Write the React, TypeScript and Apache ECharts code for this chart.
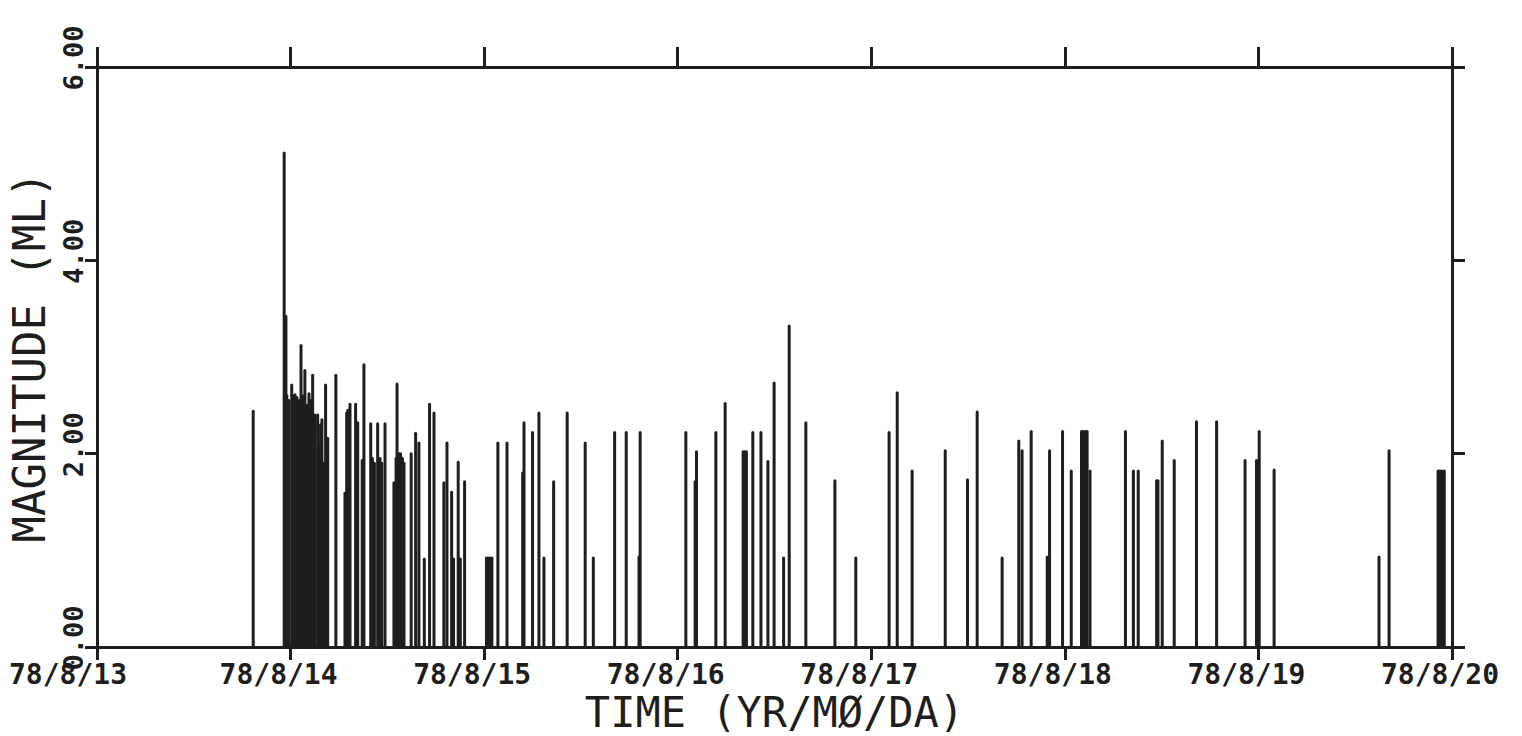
import React, { useEffect, useRef } from "react";
import * as echarts from "echarts";

// Event times as fractional day of August 1978, and local magnitudes (ML)
const eventDay: number[] = [
  13.807, 13.967, 13.976,
  13.971, 13.981, 13.992, 14.006, 14.012, 14.023, 14.033, 14.043, 14.054, 14.064,
  14.074, 14.085, 14.095, 14.105, 14.114, 14.126, 14.140, 14.147, 14.155, 14.162,
  14.172, 14.181, 14.192,
  14.234, 14.281, 14.290, 14.296, 14.307, 14.336, 14.347, 14.370, 14.379,
  14.414, 14.423, 14.433, 14.450, 14.462, 14.471, 14.488,
  14.534, 14.545, 14.550, 14.560, 14.568, 14.578, 14.586, 14.623, 14.646, 14.663,
  14.691, 14.718, 14.741, 14.792, 14.808, 14.832, 14.842, 14.866, 14.877, 14.899,
  15.012, 15.020, 15.030, 15.040, 15.071, 15.118, 15.199, 15.206, 15.250, 15.283,
  15.309, 15.359, 15.429, 15.522, 15.564, 15.674, 15.734, 15.800, 15.806,
  16.042, 16.090, 16.097, 16.197, 16.245, 16.338, 16.347, 16.355, 16.388, 16.430,
  16.466, 16.498, 16.547, 16.576, 16.662, 16.812, 16.920,
  17.092, 17.134, 17.211, 17.382, 17.497, 17.547, 17.676, 17.762, 17.779, 17.826,
  17.909, 17.921, 17.988,
  18.033, 18.086, 18.096, 18.106, 18.115, 18.130, 18.313, 18.354, 18.379, 18.474,
  18.481, 18.503, 18.565, 18.680, 18.784, 18.931, 18.990,
  19.004, 19.081, 19.623, 19.675, 19.928, 19.937, 19.947, 19.960,
];

const eventMag: number[] = [
  2.44, 5.11, 3.42,
  2.55, 2.6, 2.55, 2.71, 2.6, 2.61, 2.58, 2.55, 3.12, 2.6,
  2.86, 2.5, 2.62, 2.55, 2.81, 2.4, 2.4, 2.1, 2.3, 2.35,
  1.9, 2.71, 2.16,
  2.81, 1.59, 2.42, 2.45, 2.51, 2.51, 2.32, 1.93, 2.92,
  2.31, 1.95, 1.9, 2.31, 1.95, 1.9, 2.31,
  1.7, 1.95, 2.72, 2.0, 2.0, 1.95, 1.9, 2.0, 2.21, 2.11,
  0.91, 2.51, 2.42, 1.7, 2.11, 1.6, 0.91, 1.91, 0.91, 1.71,
  0.92, 0.92, 0.92, 0.92, 2.11, 2.11, 1.8, 2.32, 2.22, 2.42,
  0.92, 1.71, 2.42, 2.11, 0.92, 2.22, 2.22, 0.93, 2.22,
  2.22, 1.71, 2.02, 2.22, 2.52, 2.02, 2.02, 2.02, 2.22, 2.22,
  1.92, 2.73, 0.92, 3.32, 2.32, 1.72, 0.92,
  2.22, 2.63, 1.82, 2.03, 1.73, 2.43, 0.92, 2.13, 2.03, 2.23,
  0.93, 2.03, 2.23,
  1.82, 2.23, 2.23, 2.23, 2.23, 1.82, 2.23, 1.82, 1.82, 1.72,
  1.72, 2.13, 1.93, 2.33, 2.33, 1.93, 1.93,
  2.23, 1.83, 0.93, 2.03, 1.82, 1.82, 1.82, 1.82,
];

const dayMin = 13;
const dayMax = 20;
const magMin = 0;
const magMax = 6;
const magStep = 2;
const xLabelPrefix = "78/8/";
const xTitle = "TIME (YR/MØ/DA)";
const yTitle = "MAGNITUDE (ML)";

const INK = "#1e1e1e";
const FONT = "DejaVu Sans Mono";

export default function App() {
  const ref = useRef<HTMLDivElement>(null);

  useEffect(() => {
    document.body.style.margin = "0";
    document.body.style.background = "#ffffff";
    if (!ref.current) return;
    const chart = echarts.init(ref.current, undefined, { renderer: "svg" });

    const data = eventDay.map((d, i) => [d, eventMag[i]]);

    const axisLine = { show: true, onZero: false, lineStyle: { color: INK, width: 3 } };

    chart.setOption({
      animation: false,
      backgroundColor: "#ffffff",
      grid: { left: 97, right: 70, top: 67, bottom: 89, containLabel: false, outerBoundsMode: "none" },
      xAxis: [
        {
          type: "value",
          position: "bottom",
          min: dayMin,
          max: dayMax,
          interval: 1,
          axisLine,
          axisTick: { show: true, inside: false, length: 13, lineStyle: { color: INK, width: 3 } },
          splitLine: { show: false },
          axisLabel: {
            show: true,
            margin: 13,
            color: INK,
            fontFamily: FONT,
            fontWeight: "bold",
            fontSize: 28,
            formatter: (v: number) =>
              v === dayMin ? `{a|${xLabelPrefix}${v}}` : `{b|${xLabelPrefix}${v}}`,
            rich: {
              a: { fontFamily: FONT, fontWeight: "bold", fontSize: 28, color: INK, padding: [0, 58, 0, 0] },
              b: { fontFamily: FONT, fontWeight: "bold", fontSize: 28, color: INK, padding: [0, 24, 0, 0] },
            },
          },
          name: xTitle,
          nameLocation: "middle",
          nameMoveOverlap: false,
          nameGap: 44,
          nameTextStyle: { color: INK, fontFamily: FONT, fontSize: 42, fontWeight: "normal" },
        },
        {
          type: "value",
          position: "top",
          min: dayMin,
          max: dayMax,
          interval: 1,
          axisLine,
          axisTick: { show: true, inside: false, length: 20, lineStyle: { color: INK, width: 3 } },
          splitLine: { show: false },
          axisLabel: { show: false },
        },
      ],
      yAxis: [
        {
          type: "value",
          position: "left",
          min: magMin,
          max: magMax,
          interval: magStep,
          axisLine,
          axisTick: { show: true, inside: false, length: 12, lineStyle: { color: INK, width: 3 } },
          splitLine: { show: false },
          axisLabel: {
            show: true,
            rotate: 90,
            margin: 10,
            color: INK,
            fontFamily: FONT,
            fontWeight: "bold",
            fontSize: 27,
            formatter: (v: number) => `{c|${v.toFixed(2)}}`,
            rich: {
              c: { fontFamily: FONT, fontWeight: "bold", fontSize: 27, color: INK, padding: [0, 0, 0, 18] },
            },
          },
          name: yTitle,
          nameLocation: "middle",
          nameGap: 46,
          nameTextStyle: { color: INK, fontFamily: FONT, fontSize: 44, fontWeight: "normal" },
        },
        {
          type: "value",
          position: "right",
          min: magMin,
          max: magMax,
          interval: magStep,
          axisLine,
          axisTick: { show: true, inside: false, length: 13, lineStyle: { color: INK, width: 3 } },
          splitLine: { show: false },
          axisLabel: { show: false },
        },
      ],
      series: [
        {
          type: "custom",
          xAxisIndex: 0,
          yAxisIndex: 0,
          data,
          encode: { x: 0, y: 1 },
          renderItem: (params: any, api: any) => {
            const x = api.value(0);
            const m = api.value(1);
            const p0 = api.coord([x, 0]);
            const p1 = api.coord([x, m]);
            return {
              type: "line",
              shape: { x1: p0[0], y1: p0[1], x2: p1[0], y2: p1[1] },
              style: { stroke: INK, lineWidth: 3, lineCap: "round" },
            };
          },
        },
      ],
    });

    return () => chart.dispose();
  }, []);

  return <div ref={ref} style={{ width: 1522, height: 736 }} />;
}
